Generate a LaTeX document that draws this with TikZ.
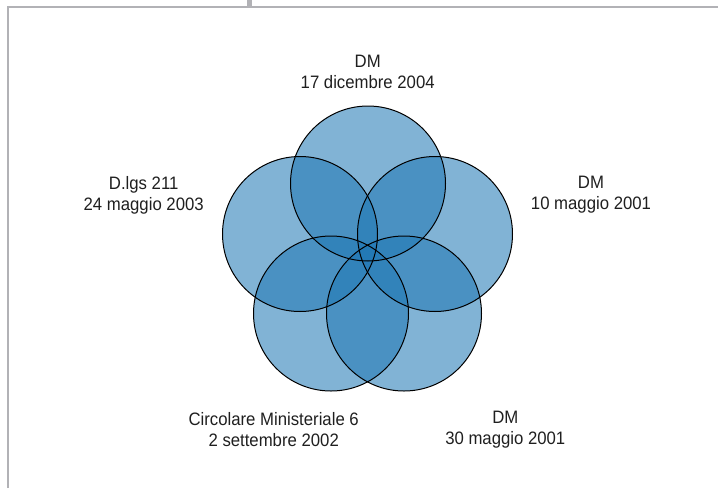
\documentclass[tikz,border=0pt]{standalone}
\usepackage{fontspec}
\setmainfont{Liberation Sans}[FakeStretch=0.93]
\definecolor{VennBlue}{RGB}{31, 119, 180}
\definecolor{FrameGray}{RGB}{178, 178, 182}
\usetikzlibrary{positioning}

\begin{document}
\begin{tikzpicture}[
    x=1pt, y=-1pt,
    every node/.style={font=\fontsize{18}{21}\selectfont, align=center, text=black!88},
    venn/.style={circle, minimum size=155pt, inner sep=0pt,
                fill=VennBlue, fill opacity=0.56},
    ring/.style={draw=black, line width=1pt},
    frame/.style={draw=FrameGray, line width=2pt}
]
\useasboundingbox (0,0) rectangle (718,488);

% frame
\draw[frame] (7.7,488) -- (7.7,7) -- (718,7);
\fill[FrameGray] (247,0) rectangle (251.5,8);

% circles
\node[venn] (dic04) at (368,183.5) {};
\node[venn] (dlgs) at (300,234) {};
\node[venn] (mag01) at (435,234) {};
\node[venn] (circ) at (331,313.5) {};
\node[venn] (mag30) at (404,313.5) {};

\foreach \c in {dic04, dlgs, mag01, circ, mag30}
    \draw[ring] (\c.center) circle[radius=77.5];

% labels
\node (l1) at (367.7,72) {DM\\17 dicembre 2004};
\node (l2) at (143.7,195) {D.lgs 211\\24 maggio 2003};
\node (l3) at (591,195) {DM\\10 maggio 2001};
\node (l4) at (273.7,430) {Circolare Ministeriale 6\\2 settembre 2002};
\node (l5) at (505.3,430) {DM\\30 maggio 2001};
\end{tikzpicture}
\end{document}
